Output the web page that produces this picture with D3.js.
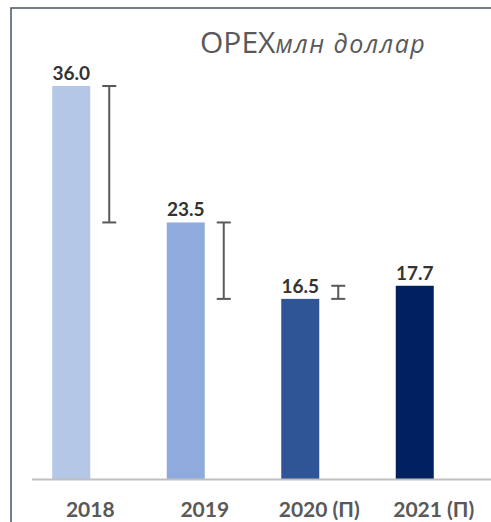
<!DOCTYPE html>
<html>
<head>
<meta charset="utf-8">
<script src="https://cdn.jsdelivr.net/npm/d3@7"></script>
<style>
  body { margin: 0; background: #fff; }
  svg { display: block; }
</style>
</head>
<body>
<svg id="chart" width="491" height="522"></svg>
<script>

// data
var years = ["2018", "2019", "2020 (П)", "2021 (П)"];
var opex = [36.0, 23.5, 16.5, 17.7];
var barColours = ["#B4C7E7", "#8FAADC", "#2F5597", "#002060"];
// change bar beside each year: runs from this year's value to the next one
var changeTo = [23.5, 16.5, 17.7, null];

var svg = d3.select("#chart");

var x = d3.scaleBand()
	.domain(years)
	.range([33, 491]);

var y = d3.scaleLinear()
	.domain([0, 36])
	.range([479, 86]);

var BAR_W = 38;

// frame
svg.append("path")
	.attr("d", "M11,522V8H491")
	.attr("fill", "none")
	.attr("stroke", "#44546A")
	.attr("stroke-width", 1.5);

// title
var title = svg.append("text")
	.attr("x", 200)
	.attr("y", 53)
	.attr("fill", "#595959")
	.style("font-family", "'Open Sans', 'Noto Sans', sans-serif");
title.append("tspan").text("OPEX").style("font-size", "30px");
title.append("tspan").text("млн доллар").style("font-size", "25px")
	.style("font-style", "italic").style("letter-spacing", "1.5px");

// bars
svg.selectAll("rect.bar")
	.data(opex)
	.enter().append("rect")
	.attr("class", "bar")
	.attr("x", function(d, i) { return x(years[i]) + x.bandwidth() / 2 - BAR_W; })
	.attr("y", function(d) { return y(d); })
	.attr("width", BAR_W)
	.attr("height", function(d) { return y(0) - y(d); })
	.style("fill", function(d, i) { return barColours[i]; });

// axis line
svg.append("line")
	.attr("x1", 32).attr("x2", 491)
	.attr("y1", y(0) + 0.5).attr("y2", y(0) + 0.5)
	.attr("stroke", "#BFBFBF")
	.attr("stroke-width", 2);

// change markers
var err = svg.selectAll("g.err")
	.data(opex.map(function(d, i) { return { from: d, to: changeTo[i], year: years[i] }; })
		.filter(function(d) { return d.to != null; }))
	.enter().append("g")
	.attr("class", "err")
	.attr("stroke", "#595959")
	.attr("stroke-width", 2)
	.attr("transform", function(d) { return "translate(" + (x(d.year) + x.bandwidth() / 2 + 19) + ",0)"; });

err.append("line")
	.attr("y1", function(d) { return y(d.from); })
	.attr("y2", function(d) { return y(d.to); });
err.append("line")
	.attr("x1", -7).attr("x2", 7)
	.attr("y1", function(d) { return y(d.from); })
	.attr("y2", function(d) { return y(d.from); });
err.append("line")
	.attr("x1", -7).attr("x2", 7)
	.attr("y1", function(d) { return y(d.to); })
	.attr("y2", function(d) { return y(d.to); });

// value labels
svg.selectAll("text.val")
	.data(opex)
	.enter().append("text")
	.attr("class", "val")
	.attr("x", function(d, i) { return x(years[i]) + x.bandwidth() / 2 - BAR_W / 2; })
	.attr("y", function(d) { return y(d) - 6; })
	.attr("text-anchor", "middle")
	.attr("fill", "#333333")
	.style("font-family", "Lato, 'Noto Sans', sans-serif")
	.style("font-weight", "bold")
	.style("font-size", "19px")
	.text(function(d) { return d.toFixed(1); });

// category labels
svg.selectAll("text.cat")
	.data(years)
	.enter().append("text")
	.attr("class", "cat")
	.attr("x", function(d) { return x(d) + x.bandwidth() / 2; })
	.attr("y", 517)
	.attr("text-anchor", "middle")
	.attr("fill", "#595959")
	.style("font-family", "Lato, 'Noto Sans', sans-serif")
	.style("font-weight", "bold")
	.style("font-size", "21px")
	.text(function(d) { return d; });

</script>
</body>
</html>
